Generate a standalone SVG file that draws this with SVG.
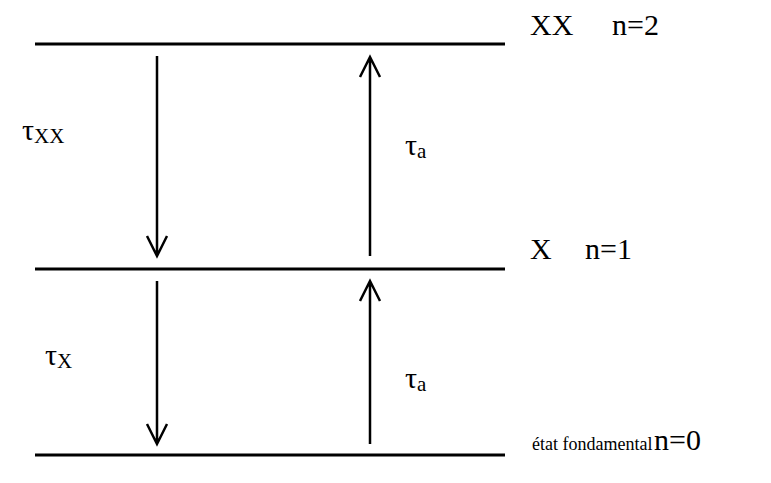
<svg xmlns="http://www.w3.org/2000/svg" width="771" height="483" viewBox="0 0 771 483">
<style>
.lvl{stroke:#000;stroke-width:3;fill:none}
.arr{stroke:#000;stroke-width:2.5;fill:none}
.big{font-size:30px}
.sub{font-size:21px}
.small{font-size:18px}
</style>
<rect width="771" height="483" fill="#fff"/>
<g font-family="Times New Roman, Liberation Serif, serif" fill="#000" style="font-family:'Times New Roman','Liberation Serif',serif">
<g id="level-n2"><line class="lvl" x1="35" y1="44" x2="505" y2="44"/><text class="big" x="530" y="35">XX</text><text class="big" x="612" y="35">n=2</text></g>
<g id="level-n1"><line class="lvl" x1="35" y1="269" x2="505" y2="269"/><text class="big" x="530" y="259">X</text><text class="big" x="585" y="259">n=1</text></g>
<g id="level-n0"><line class="lvl" x1="35" y1="455" x2="505" y2="455"/><text class="small" x="532" y="450">état fondamental</text><text class="big" x="654" y="450">n=0</text></g>
<g id="label-txx"><text x="22" y="140"><tspan class="big">τ</tspan><tspan class="sub" dy="3">XX</tspan></text></g>
<g id="label-ta1"><text x="405" y="155"><tspan class="big">τ</tspan><tspan class="sub" dy="3">a</tspan></text></g>
<g id="label-tx"><text x="45" y="365"><tspan class="big">τ</tspan><tspan class="sub" dy="3">X</tspan></text></g>
<g id="label-ta2"><text x="405" y="388"><tspan class="big">τ</tspan><tspan class="sub" dy="3">a</tspan></text></g>
</g>
<g id="connectors">
<path class="arr" d="M157 56V256M147 236L157 256L167 236"/>
<path class="arr" d="M370 256V57M360 77L370 57L380 77"/>
<path class="arr" d="M157 281V444M147 424L157 444L167 424"/>
<path class="arr" d="M370 444V281M360 301L370 281L380 301"/>
</g>
</svg>
